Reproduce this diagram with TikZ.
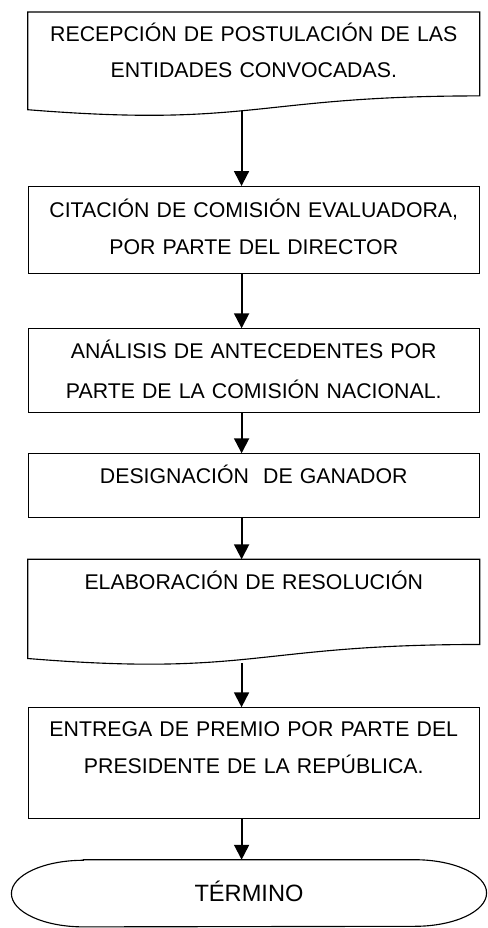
\documentclass[tikz,border=0pt]{standalone}
\usepackage{fontspec}
\setmainfont{Liberation Sans}
\usetikzlibrary{%
  arrows.meta,%
  calc%
}
\tikzset{>={Triangle[width=0.37cm,length=0.37cm]}}
\tikzset{
  box/.style={draw,line width=0.8pt,minimum width=11.27cm,anchor=north,inner sep=0pt},
  txt/.style={anchor=base,text width=11cm,align=center,inner sep=0pt,
    font=\fontsize{15.15pt}{26pt}\selectfont},
  flow/.style={->,line width=1.4pt}
}

\begin{document}
\begin{tikzpicture}
    \useasboundingbox (0,0) rectangle (12.175,23.2);
    \coordinate (ax) at (6.04,0);
    % first document box
    \node[box,draw=none,minimum height=2.5875cm] (b1) at (6.344,22.9) {};
    \draw[line width=0.8pt] (b1.north west) -- (b1.north east)
      -- ($(b1.north east)!0.802!(b1.south east)$)
      .. controls ($(b1.north)!0.802!(b1.south)$) and ($(b1.north)!1.1075!(b1.south)$)
      .. ($(b1.north west)!0.934!(b1.south west)$) coordinate[pos=0.536] (b1out) -- cycle;
    \node[txt,font=\fontsize{15.15pt}{25.25pt}\selectfont] (t1) at (6.344,22.15)
      {RECEPCIÓN DE POSTULACIÓN DE LAS\\ENTIDADES CONVOCADAS.};
    % process boxes
    \node[box,minimum height=2.1675cm] (b2) at (6.344,18.55) {};
    \node[txt] (t2) at (6.344,17.7625)
      {CITACIÓN DE COMISIÓN EVALUADORA,\\POR PARTE DEL DIRECTOR};
    \node[box,minimum height=2.085cm] (b3) at (6.344,14.9925) {};
    \node[txt,font=\fontsize{15.15pt}{28.45pt}\selectfont] (t3) at (6.344,14.2425)
      {ANÁLISIS DE ANTECEDENTES POR\\PARTE DE LA COMISIÓN NACIONAL.};
    \node[box,minimum height=1.585cm] (b4) at (6.344,11.8675) {};
    \node[txt] (t4) at (6.344,11.1175) {DESIGNACIÓN\ \ DE GANADOR};
    % second document box
    \node[box,draw=none,minimum height=2.6275cm] (b5) at (6.344,9.2175) {};
    \draw[line width=0.8pt] (b5.north west) -- (b5.north east)
      -- ($(b5.north east)!0.802!(b5.south east)$)
      .. controls ($(b5.north)!0.802!(b5.south)$) and ($(b5.north)!1.1075!(b5.south)$)
      .. ($(b5.north west)!0.934!(b5.south west)$) coordinate[pos=0.536] (b5out) -- cycle;
    \node[txt] (t5) at (6.344,8.4675) {ELABORACIÓN DE RESOLUCIÓN};
    \node[box,minimum height=2.775cm] (b6) at (6.344,5.5175) {};
    \node[txt] (t6) at (6.344,4.7825)
      {ENTREGA DE PREMIO POR PARTE DEL\\PRESIDENTE DE LA REPÚBLICA.};
    % terminal
    \node[inner sep=0pt,minimum width=11.865cm,minimum height=1.665cm,
      text height=0.39cm,text depth=0pt,font=\fontsize{16.8pt}{26pt}\selectfont]
      (term) at (6.225,0.8675) {TÉRMINO};
    \draw[line width=0.8pt] ($(term.north west)+(1.8,0)$) -- ($(term.north east)+(-1.8,0)$)
      arc[start angle=90,end angle=-90,x radius=1.8,y radius=0.8325]
      -- ($(term.south west)+(1.8,0)$)
      arc[start angle=270,end angle=90,x radius=1.8,y radius=0.8325] -- cycle;
    % arrows
    \draw[flow] (b1out) -- (b2.north -| b1out);
    \draw[flow] (b2.south -| ax) -- (b3.north -| ax);
    \draw[flow] (b3.south -| ax) -- (b4.north -| ax);
    \draw[flow] (b4.south -| ax) -- (b5.north -| ax);
    \draw[flow,shorten <=2.5pt] (b5out) -- (b6.north -| b5out);
    \draw[flow] (b6.south -| ax) -- (term.north -| ax);
\end{tikzpicture}
\end{document}
